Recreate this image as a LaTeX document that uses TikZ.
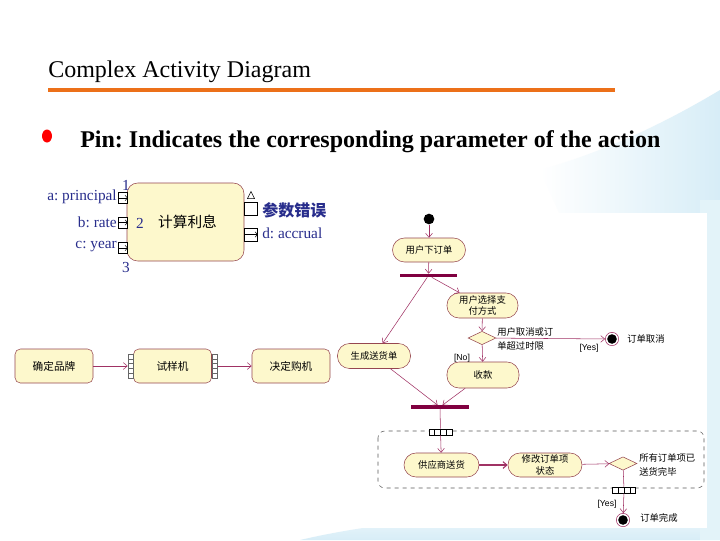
\documentclass[tikz,border=0pt]{standalone}
\usepackage{fontspec}
\setmainfont{Liberation Serif}
\setsansfont{Liberation Sans}
\newfontfamily\cjk{Noto Sans CJK SC}
\usetikzlibrary{shapes.geometric,arrows.meta,calc}
\definecolor{orangec}{RGB}{236,112,25}
\definecolor{actfill}{RGB}{253,248,204}
\definecolor{actline}{RGB}{150,70,80}
\definecolor{flowc}{RGB}{160,50,100}
\definecolor{barc}{RGB}{128,0,64}
\definecolor{pinblue}{RGB}{40,45,140}
\definecolor{skyc}{RGB}{215,237,247}
\frenchspacing
\begin{document}
\begin{tikzpicture}[x=0.75pt,y=-0.75pt]
\tikzstyle{every node}+=[inner sep=0pt]
\tikzstyle{act}=[draw=actline,fill=actfill,rounded corners=9pt,align=center,font=\cjk\fontsize{7}{8.5}\selectfont]
\tikzstyle{box}=[draw=actline,fill=actfill,rounded corners=4pt,minimum width=58.5pt,minimum height=25.5pt,font=\cjk\fontsize{8}{9}\selectfont]
\tikzstyle{bar}=[fill=barc,minimum width=43pt,minimum height=2.4pt]
\tikzstyle{flow}=[draw=flowc,-{Straight Barb[length=3pt,width=5pt]}]
\tikzstyle{dec}=[diamond,draw=actline,fill=actfill,minimum width=21pt,minimum height=10pt]
\tikzstyle{fin}=[circle,draw=flowc,fill=white,minimum size=10pt,path picture={\fill[black] (path picture bounding box.center) circle (3.6pt);}]
\tikzstyle{xpin}=[draw,fill=white,minimum width=17.5pt,minimum height=4.5pt,path picture={\foreach \f in {0.25,0.5,0.75} \draw ($(path picture bounding box.south west)!\f!(path picture bounding box.south east)$) -- ($(path picture bounding box.north west)!\f!(path picture bounding box.north east)$);}]
\tikzstyle{ypin}=[draw=gray!80!black,fill=white,minimum width=3.75pt,minimum height=18pt,path picture={\foreach \f in {0.2,0.4,0.6,0.8} \draw[gray!80!black] ($(path picture bounding box.south west)!\f!(path picture bounding box.north west)$) -- ($(path picture bounding box.south east)!\f!(path picture bounding box.north east)$);}]
\tikzstyle{lpin}=[draw,fill=white,minimum width=7pt,minimum height=8pt,path picture={\draw[-{Straight Barb[length=1.6pt,width=4pt]}] (path picture bounding box.west) -- (path picture bounding box.east);}]
\tikzstyle{rpin}=[draw,fill=white,minimum width=10pt,minimum height=10pt]
\tikzstyle{plabel}=[text=pinblue,font=\fontsize{11.5}{13}\selectfont]

\fill[white] (0,0) rectangle (720,540);
\shade[left color=white,right color=skyc] (540,170) .. controls (610,150) and (670,120) .. (720,90) -- (720,320) .. controls (680,290) and (620,250) .. (560,215) -- cycle;
\shade[top color=white,bottom color=skyc] (300,540) .. controls (450,505) and (600,520) .. (720,495) -- (720,540) -- cycle;
\fill[skyc!70] (700,200) rectangle (720,540);

\node[anchor=base west,font=\fontsize{18}{20}\selectfont] (title) at (48,77) {Complex Activity Diagram};
\draw[orangec,line width=3pt] (48,90) -- (615,90);
\fill[red] (47,136) ellipse (5 and 6.5);
\node[anchor=west,font=\bfseries\fontsize{18}{20}\selectfont] (pintext) at (80,142) {Pin: Indicates the corresponding parameter of the action};

\fill[white] (43,172) rectangle (326,275);
\node[draw=actline,fill=actfill,rounded corners=8pt,minimum width=87.75pt,minimum height=58.5pt,font=\cjk\fontsize{11}{12}\selectfont] (calc) at (185.5,222) {\hspace{3pt}计算利息};
\node[lpin] (pa) at (123,198) {};
\node[lpin] (pb) at (123,222.5) {};
\node[lpin] (pc) at (123,248) {};
\node[rpin] (perr) at (251,208.5) {};
\node[rpin,path picture={\draw[-{Straight Barb[length=1.6pt,width=4pt]}] (path picture bounding box.west) -- (path picture bounding box.east);}] (pd) at (251,234.5) {};
\draw (perr.north) ++(-3.5,-3) -- ++(7,0) -- ++(-3.5,-7) -- cycle;
\node[plabel,anchor=east] (la) at (117,197) {a: principal};
\node[plabel,anchor=east] (lb) at (117,222) {b: rate};
\node[plabel,anchor=east] (lc) at (117,247) {c: year};
\node[plabel,anchor=west] (ld) at (262,233) {d: accrual};
\node[text=pinblue,anchor=west,font=\cjk\bfseries\fontsize{12}{13}\selectfont] (lerr) at (262,210) {参数错误};
\node[plabel] (n1) at (126,185) {1};
\node[plabel] (n2) at (140,223) {2};
\node[plabel] (n3) at (126,267) {3};

\node[box] (brand) at (54,366) {确定品牌};
\node[box] (trial) at (172.5,366) {试样机};
\node[box] (decide) at (291,366) {决定购机};
\node[ypin] (tin) at (130.5,366) {};
\node[ypin] (tout) at (215,366) {};
\draw[flow] (brand) -- (tin);
\draw[flow] (tout) -- (decide);

\fill[white] (337,213) rectangle (707,528);
\node[circle,fill=black,minimum size=8pt] (start) at (429,219) {};
\node[act,minimum width=54.75pt,minimum height=18pt] (order) at (429,250) {用户下订单};
\node[bar] (fork) at (428.5,275.5) {};
\node[act,minimum width=53.25pt,minimum height=18.75pt] (pay) at (482.5,305.5) {用户选择支\\付方式};
\node[act,minimum width=54.75pt,minimum height=18.75pt] (ship) at (374,356) {生成送货单};
\node[dec] (cancel) at (482,338) {};
\node[fin] (endc) at (612,339) {};
\node[act,minimum width=54pt,minimum height=19.5pt] (money) at (483,375) {收款};
\node[bar] (join) at (440,407) {};
\draw[dashed,draw=gray!70!black,rounded corners=5pt] (378,431) rectangle (704,488);
\node[xpin] (pinin) at (440.5,432) {};
\node[act,minimum width=56.25pt,minimum height=18pt] (supply) at (441.5,465) {供应商送货};
\node[act,minimum width=55.5pt,minimum height=18pt] (status) at (545,465) {修改订单项\\状态};
\node[dec] (alldone) at (623,463.5) {};
\node[xpin] (pinout) at (624,490) {};
\node[fin] (endo) at (623,520) {};

\draw[flow] (start) -- (order);
\draw[flow] (order) -- (fork);
\draw[flow] (fork) -- (pay);
\draw[flow] (fork) -- (ship);
\draw[flow] (pay) -- (cancel);
\draw[flow] (cancel) -- (endc);
\draw[flow] (cancel) -- (money);
\draw[flow] (ship) -- (join);
\draw[flow] (money) -- (join);
\draw[draw=flowc] (join) -- (pinin);
\draw[flow] (pinin) -- (supply);
\draw[flow,line width=0.8pt] (supply) -- (status);
\draw[flow] (status) -- (alldone);
\draw[draw=flowc] (alldone) -- (pinout);
\draw[flow] (pinout) -- (endo);

\node[anchor=west,align=left,font=\cjk\fontsize{7}{11}\selectfont] (lcancel) at (497,339) {用户取消或订\\单超过时限};
\node[anchor=west,font=\cjk\fontsize{7}{8}\selectfont] (tcancel) at (627,339) {订单取消};
\node[font=\sffamily\fontsize{6.5}{7}\selectfont] (yes1) at (589,348) {[Yes]};
\node[font=\sffamily\fontsize{6.5}{7}\selectfont] (no1) at (462,358) {[No]};
\node[anchor=west,align=left,font=\cjk\fontsize{7}{10.5}\selectfont] (ldone) at (639,465) {所有订单项已\\送货完毕};
\node[font=\sffamily\fontsize{6.5}{7}\selectfont] (yes2) at (607,504) {[Yes]};
\node[anchor=west,font=\cjk\fontsize{7}{8}\selectfont] (tdone) at (640,518) {订单完成};
\end{tikzpicture}
\end{document}
